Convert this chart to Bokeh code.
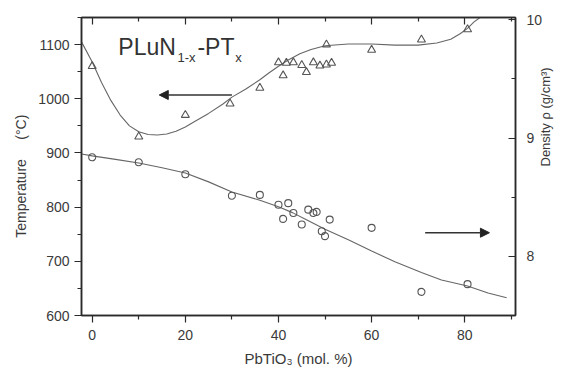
import math
from bokeh.plotting import figure
from bokeh.models import (Range1d, LinearAxis, FixedTicker, Label, Arrow, NormalHead)
from bokeh.embed import file_html
from bokeh.resources import INLINE

# ---- data ----
temp_x = [0, 10, 20, 29.6, 36, 40, 41, 41.7, 43.2, 45, 46, 47.5, 48.9, 50.3, 50.3, 51.4, 60, 70.7, 80.6]
temp_y = [1060, 930, 970, 991, 1020, 1067, 1043, 1066, 1067, 1062, 1049, 1067, 1061, 1100, 1063, 1066, 1090, 1109, 1128]

dens_x = [0, 10, 20, 30, 36, 40, 41, 42.1, 43.2, 45, 46.4, 47.5, 48.2, 49.3, 50, 51, 60, 70.7, 80.6]
dens_y = [8.838, 8.796, 8.695, 8.513, 8.52, 8.437, 8.317, 8.45, 8.367, 8.27, 8.395, 8.367, 8.376, 8.213, 8.171, 8.311, 8.241, 7.70, 7.765]

# fitted curves (traced)
temp_fit_x = [-2.3, 0, 2, 4, 6, 8, 10, 12, 14, 16, 18, 20, 22, 25, 28, 30, 33, 36, 38, 40, 42, 44.6,
              47, 50, 55, 60, 65, 70, 74, 77, 79, 80.6, 82, 83.3]
temp_fit_y = [1105, 1068, 1030, 997, 970, 950, 939, 934, 933, 935, 940, 948, 958, 973, 990, 1003, 1018,
              1035, 1048, 1060, 1071, 1083, 1091, 1098, 1101, 1101, 1099, 1099, 1103, 1110, 1120, 1130, 1142, 1150]

dens_fit_x = [-2.3, 0, 5, 10, 15, 20, 25, 30, 36, 40, 43, 46, 50, 55, 60, 65, 70.7, 75, 80.6, 85, 89]
dens_fit_y = [8.866, 8.85, 8.82, 8.79, 8.75, 8.705, 8.63, 8.545, 8.475, 8.42, 8.37, 8.31, 8.23, 8.14,
              8.045, 7.955, 7.863, 7.80, 7.75, 7.69, 7.65]

x_ticks = [0, 20, 40, 60, 80]
x_minor = [10, 30, 50, 70, 90]
t_ticks = [600, 700, 800, 900, 1000, 1100]
t_minor = [650, 750, 850, 950, 1050, 1150]
d_ticks = [8, 9, 10]
d_minor = [7.5, 8.5, 9.5]

FONT = "Liberation Sans"
AX = "#2a2a2a"
TXT = "#3a3a3a"
MK = "#555555"
NB = "\u00a0"

p = figure(width=563, height=378, output_backend="svg", toolbar_location=None,
           x_range=Range1d(-2.3, 90.9), y_range=Range1d(600, 1150),
           min_border_left=81, min_border_right=47, min_border_top=17, min_border_bottom=63,
           x_axis_type=None, y_axis_type=None)
p.extra_y_ranges = {"dens": Range1d(7.5, 10.02)}
p.xgrid.visible = False
p.ygrid.visible = False
p.outline_line_color = AX
p.outline_line_width = 1.5
p.background_fill_color = "white"
p.border_fill_color = "white"


def style(ax, tin, tout):
    ax.axis_line_color = AX
    ax.axis_line_width = 1.5
    ax.major_tick_line_color = AX
    ax.minor_tick_line_color = AX
    ax.major_tick_line_width = 1.2
    ax.minor_tick_line_width = 1.2
    ax.major_tick_in = tin
    ax.major_tick_out = tout
    ax.minor_tick_in = int(tin * 0.6)
    ax.minor_tick_out = int(tout * 0.6)
    ax.major_label_text_font = FONT
    ax.major_label_text_color = TXT
    ax.major_label_text_font_size = "14px"
    ax.axis_label_text_font = FONT
    ax.axis_label_text_color = TXT
    ax.axis_label_text_font_style = "normal"


xb = LinearAxis(ticker=FixedTicker(ticks=x_ticks, minor_ticks=x_minor),
                axis_label="PbTiO\u2083 (mol. %)")
style(xb, 0, 7)
xb.major_label_standoff = 7
xb.axis_label_standoff = 7
xb.axis_label_text_font_size = "15px"
p.add_layout(xb, "below")

xt = LinearAxis(ticker=FixedTicker(ticks=x_ticks, minor_ticks=x_minor))
style(xt, 7, 0)
xt.major_label_text_font_size = "8px"
xt.major_label_text_color = None
xt.major_label_standoff = 0
p.add_layout(xt, "above")

yl = LinearAxis(ticker=FixedTicker(ticks=t_ticks, minor_ticks=t_minor),
                axis_label="Temperature" + NB * 5 + "(\u00b0C)" + NB * 5)
style(yl, 0, 7)
yl.major_label_standoff = 5
yl.axis_label_standoff = 6
yl.axis_label_text_font_size = "14px"
p.add_layout(yl, "left")

yr = LinearAxis(y_range_name="dens", ticker=FixedTicker(ticks=d_ticks, minor_ticks=d_minor))
style(yr, 7, 0)
yr.major_label_standoff = 11
p.add_layout(yr, "right")

# second right axis carrying only the title, reading bottom-to-top
yr2 = LinearAxis(y_range_name="dens", ticker=FixedTicker(ticks=[], minor_ticks=[]),
                 axis_label="Density \u03c1 (g/cm\u00b3)", bounds=(7.5, 9.458))
style(yr2, 0, 0)
yr2.axis_line_color = None
yr2.major_tick_line_color = None
yr2.minor_tick_line_color = None
yr2.major_label_standoff = 0
yr2.axis_label_standoff = 0
yr2.axis_label_text_font_size = "13px"
yr2.axis_label_orientation = math.pi / 2
p.add_layout(yr2, "right")

# curves
p.line(temp_fit_x, temp_fit_y, line_color="#666666", line_width=1.1)
p.line(dens_fit_x, dens_fit_y, line_color="#666666", line_width=1.1, y_range_name="dens")

# markers
p.scatter(temp_x, temp_y, marker="triangle", size=8, fill_color=None,
          line_color=MK, line_width=1.1)
p.scatter(dens_x, dens_y, marker="circle", size=7, fill_color=None,
          line_color=MK, line_width=1.1, y_range_name="dens")

# arrows
p.add_layout(Arrow(end=NormalHead(size=9, fill_color="#222222", line_color="#222222"),
                   x_start=30, y_start=1007, x_end=14.4, y_end=1007,
                   line_color="#333333", line_width=1.5))
p.add_layout(Arrow(end=NormalHead(size=9, fill_color="#222222", line_color="#222222"),
                   x_start=71.5, y_start=8.2, x_end=85.3, y_end=8.2, y_range_name="dens",
                   line_color="#333333", line_width=1.5))

# composition label
for txt, xx, yy, fs in [("PLuN", 5.6, 1095, "23px"), ("1-x", 18.3, 1077, "13px"),
                        ("-PT", 22.6, 1095, "23px"), ("x", 30.7, 1077, "13px")]:
    p.add_layout(Label(x=xx, y=yy, text=txt, text_font=FONT, text_font_size=fs,
                       text_color="#333333", text_baseline="alphabetic"))

open("out.html", "w").write(file_html(p, INLINE))
